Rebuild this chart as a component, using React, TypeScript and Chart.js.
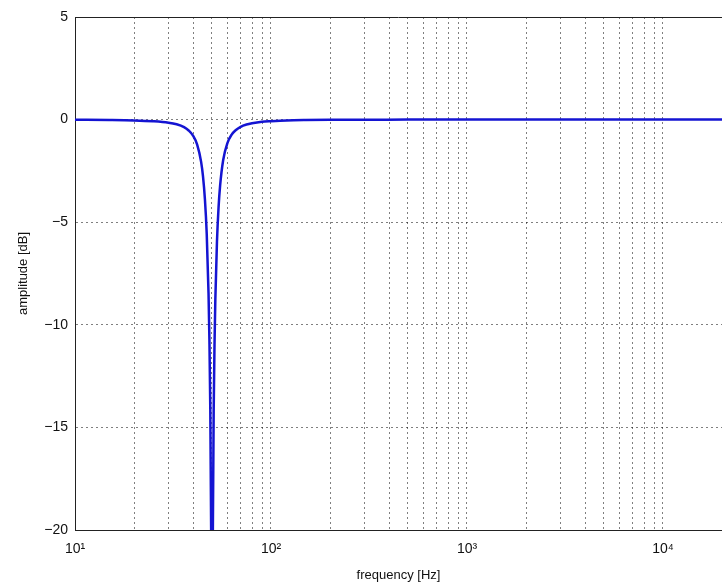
import React, { useEffect, useRef } from "react";
import { Chart, registerables } from "chart.js";

Chart.register(...registerables);

// Frequency response of the notch filter
const freqHz = [10, 15, 20, 25, 30, 33, 36, 38, 40, 42, 44, 45, 46, 47, 48, 48.5, 49, 49.5, 49.8, 50, 50.2, 50.5, 51, 51.5, 52, 53, 54, 55, 57, 60, 63, 66, 70, 75, 80, 90, 100, 120, 150, 200, 300, 500, 1000, 2000, 5000, 10000, 20000];
const amplitudeDb = [-0.01, -0.02, -0.04, -0.08, -0.15, -0.23, -0.37, -0.53, -0.78, -1.22, -2.06, -2.78, -3.87, -5.57, -8.45, -10.71, -14.07, -20.0, -27.95, -60, -27.98, -20.09, -14.23, -10.95, -8.75, -5.96, -4.29, -3.22, -1.98, -1.13, -0.73, -0.52, -0.35, -0.24, -0.18, -0.11, -0.08, -0.04, -0.02, -0.01, -0.01, 0, 0, 0, 0, 0, 0];

// Axis ticks
const xGridFreqs = [10, 20, 30, 40, 50, 60, 70, 80, 90, 100, 200, 300, 400, 500, 600, 700, 800, 900, 1000, 2000, 3000, 4000, 5000, 6000, 7000, 8000, 9000, 10000, 20000];
const xDecades = [10, 100, 1000, 10000];
const xDecadeLabels = ["10\u00B9", "10\u00B2", "10\u00B3", "10\u2074"];
const yTicks = [5, 0, -5, -10, -15, -20];
const yTickLabels = ["5", "0", "\u22125", "\u221210", "\u221215", "\u221220"];

const FONT = "'Liberation Sans', Arial, Helvetica, sans-serif";

export default function App() {
  const canvasRef = useRef<HTMLCanvasElement | null>(null);

  useEffect(() => {
    if (!canvasRef.current) return;
    const topBorder = {
      id: "topBorder",
      beforeDatasetsDraw(chart: any) {
        const { ctx, chartArea } = chart;
        ctx.save();
        ctx.strokeStyle = "#222";
        ctx.lineWidth = 1;
        ctx.beginPath();
        ctx.moveTo(chartArea.left, chartArea.top + 0.5);
        ctx.lineTo(chartArea.right, chartArea.top + 0.5);
        ctx.stroke();
        ctx.restore();
      },
    };
    const chart = new Chart(canvasRef.current, {
      type: "line",
      data: {
        datasets: [
          {
            data: freqHz.map((f, i) => ({ x: f, y: amplitudeDb[i] })),
            borderColor: "#1414d2",
            borderWidth: 2.5,
            pointRadius: 0,
            cubicInterpolationMode: "monotone",
            fill: false,
          },
        ],
      },
      options: {
        animation: false,
        responsive: false,
        devicePixelRatio: 1,
        layout: { padding: { left: 0, top: 17, right: 0, bottom: 0 } },
        plugins: { legend: { display: false }, tooltip: { enabled: false } },
        scales: {
          x: {
            type: "logarithmic",
            min: 10,
            max: 20000,
            afterBuildTicks: (scale: any) => {
              scale.ticks = xGridFreqs.map((v) => ({ value: v }));
            },
            afterFit: (scale: any) => {
              scale.height = 54;
              scale.paddingLeft = 0;
              scale.paddingRight = 0;
            },
            grid: {
              color: "rgba(0,0,0,0.5)",
              lineWidth: 1,
              drawTicks: false,
            },
            border: { display: true, color: "#222", width: 1, dash: [2, 3] },
            ticks: {
              autoSkip: false,
              maxRotation: 0,
              padding: 11,
              color: "#111",
              font: { family: FONT, size: 14 },
              callback: (value: any) => {
                const idx = xDecades.indexOf(Number(value));
                return idx >= 0 ? xDecadeLabels[idx] : "";
              },
            },
            title: {
              display: true,
              text: "frequency [Hz]",
              color: "#111",
              font: { family: FONT, size: 13 },
              padding: { top: 0, bottom: 1 },
            },
          },
          y: {
            type: "linear",
            min: -20,
            max: 5,
            afterBuildTicks: (scale: any) => {
              scale.ticks = yTicks.map((v) => ({ value: v }));
            },
            afterFit: (scale: any) => {
              scale.width = 75;
              scale.paddingTop = 0;
              scale.paddingBottom = 0;
            },
            grid: {
              color: "rgba(0,0,0,0.5)",
              lineWidth: 1,
              drawTicks: false,
            },
            border: { display: true, color: "#222", width: 1, dash: [2, 3] },
            ticks: {
              padding: 7,
              color: "#111",
              font: { family: FONT, size: 14 },
              callback: (value: any) => {
                const idx = yTicks.indexOf(Number(value));
                return idx >= 0 ? yTickLabels[idx] : "";
              },
            },
            title: {
              display: true,
              text: "amplitude [dB]",
              color: "#111",
              font: { family: FONT, size: 13 },
              padding: { top: 16, bottom: 0 },
            },
          },
        },
      },
      plugins: [topBorder],
    } as any);
    return () => chart.destroy();
  }, []);

  return (
    <div style={{ position: "absolute", left: 0, top: 0, width: 722, height: 584, background: "#fff" }}>
      <canvas ref={canvasRef} width={722} height={584} style={{ display: "block" }} />
    </div>
  );
}
